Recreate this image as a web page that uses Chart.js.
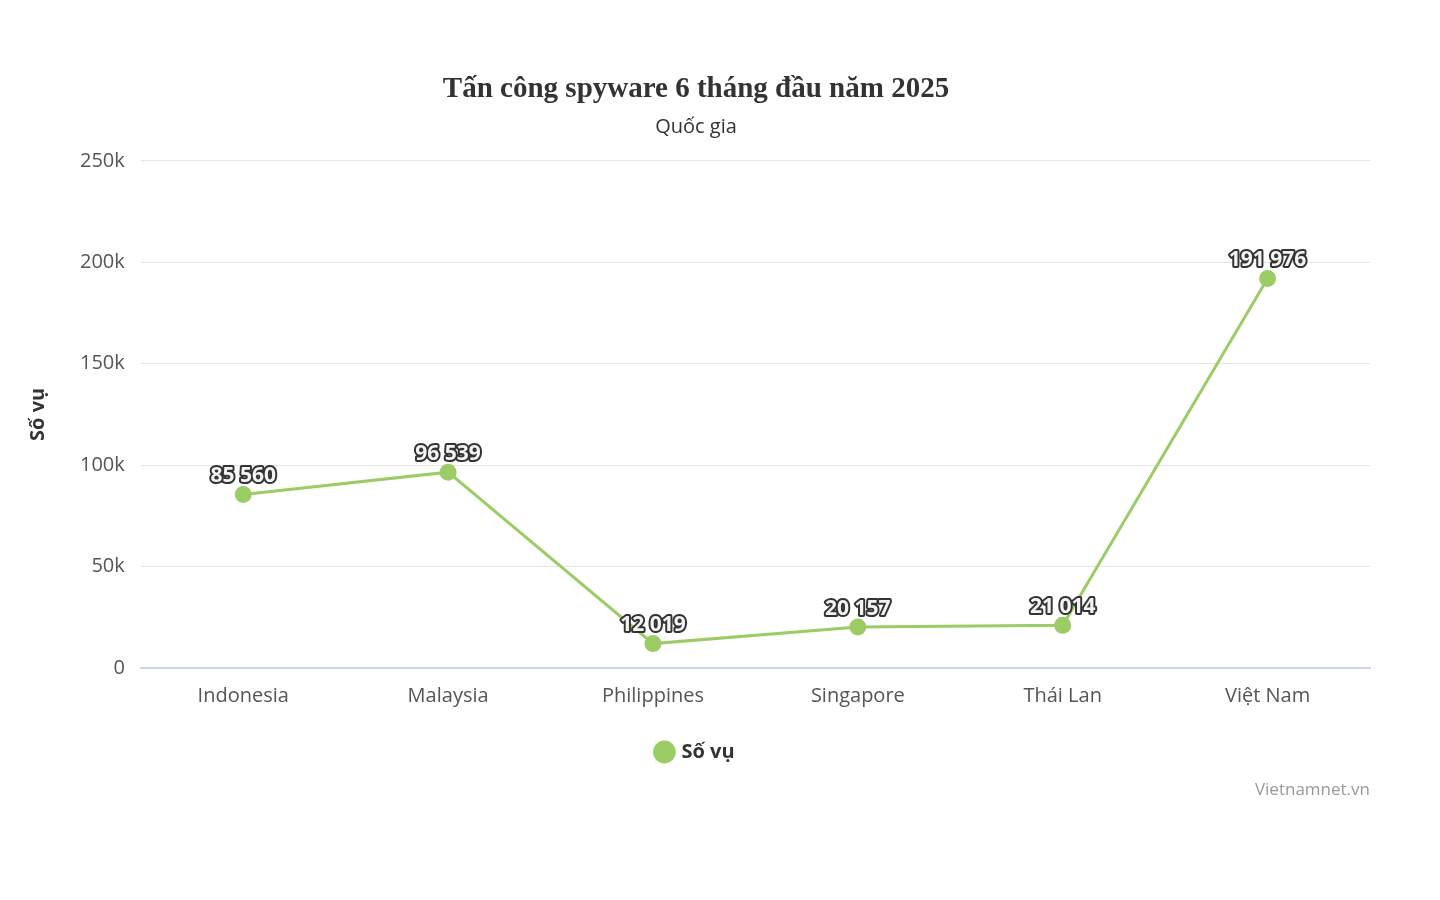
<!DOCTYPE html>
<html>
<head>
<script src="https://cdn.jsdelivr.net/npm/chart.js@4.4.1/dist/chart.umd.min.js"></script>
<style>
  html, body { margin: 0; background: #fff; }
  #wrap { width: 1440px; height: 900px; }
</style>
</head>
<body>
<div id="wrap"><canvas id="myChart" width="1440" height="900"></canvas></div>
<script>
const countries = ['Indonesia', 'Malaysia', 'Philippines', 'Singapore', 'Thái Lan', 'Việt Nam'];
const cases = [85560, 96539, 12019, 20157, 21014, 191976];
const yTicks = [0, 50000, 100000, 150000, 200000, 250000];

function fmtSpace(v) {
  return String(v).replace(/\B(?=(\d{3})+(?!\d))/g, ' ');
}

const labelPlugin = {
  id: 'labels',
  afterDatasetsDraw(chart) {
    const ctx = chart.ctx;
    const meta = chart.getDatasetMeta(0);
    ctx.save();
    ctx.font = 'bold 21px "Open Sans", sans-serif';
    ctx.textAlign = 'center';
    ctx.textBaseline = 'bottom';
    ctx.lineJoin = 'round';
    meta.data.forEach((pt, i) => {
      const t = fmtSpace(cases[i]);
      const y = pt.y - 8;
      ctx.lineWidth = 4;
      ctx.strokeStyle = '#333';
      ctx.strokeText(t, pt.x, y);
      ctx.fillStyle = '#f4f4f4';
      ctx.fillText(t, pt.x, y);
    });
    ctx.font = '17px "Open Sans", sans-serif';
    ctx.fillStyle = '#999';
    ctx.textAlign = 'right';
    ctx.textBaseline = 'middle';
    ctx.fillText('Vietnamnet.vn', 1370, 790);
    ctx.restore();
  }
};

new Chart('myChart', {
  type: 'line',
  data: {
    labels: countries,
    datasets: [{
      label: 'Số vụ',
      data: cases,
      borderColor: '#9ccc65',
      backgroundColor: '#9ccc65',
      borderWidth: 3,
      pointRadius: 7,
      pointHoverRadius: 7,
      tension: 0
    }]
  },
  options: {
    responsive: false,
    animation: false,
    layout: { padding: { top: 72, right: 70, bottom: 128, left: 22 } },
    plugins: {
      title: {
        display: true,
        text: 'Tấn công spyware 6 tháng đầu năm 2025',
        font: { family: '"Liberation Serif", serif', size: 29, weight: 'bold' },
        color: '#333',
        padding: { top: 0, bottom: 8 }
      },
      subtitle: {
        display: true,
        text: 'Quốc gia',
        font: { family: '"Open Sans", sans-serif', size: 20 },
        color: '#333',
        padding: { bottom: 22 }
      },
      legend: {
        position: 'bottom',
        labels: {
          usePointStyle: true,
          pointStyle: 'circle',
          boxWidth: 14,
          boxHeight: 14,
          font: { family: '"Open Sans", sans-serif', size: 20, weight: 'bold' },
          color: '#333',
          padding: 26
        }
      },
      tooltip: { enabled: false }
    },
    scales: {
      x: {
        offset: true,
        grid: { display: false },
        border: { color: '#ccd6eb', width: 2 },
        ticks: { font: { family: '"Open Sans", sans-serif', size: 20 }, color: '#555', padding: 8 }
      },
      y: {
        min: 0, max: 250000,
        afterBuildTicks(axis) { axis.ticks = yTicks.map(v => ({ value: v })); },
        grid: { color: '#e6e6e6', drawTicks: false },
        border: { display: false },
        title: {
          display: true, text: 'Số vụ',
          font: { family: '"Open Sans", sans-serif', size: 20, weight: 'bold' },
          color: '#333', padding: { bottom: 14 }
        },
        ticks: {
          font: { family: '"Open Sans", sans-serif', size: 20 }, color: '#555', padding: 16,
          callback: v => v === 0 ? '0' : (v / 1000) + 'k'
        }
      }
    }
  },
  plugins: [labelPlugin]
});
</script>
</body>
</html>
